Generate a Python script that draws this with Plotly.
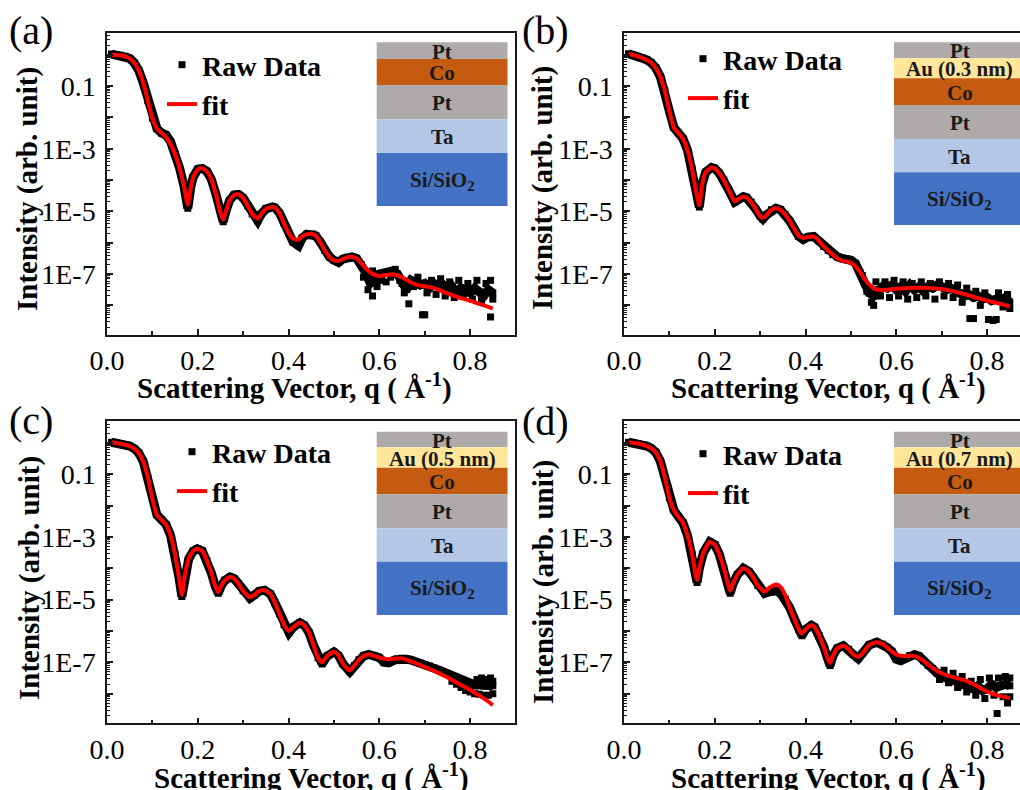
import numpy as np
import plotly.graph_objects as go

W, H = 1020, 790
FONT = "Liberation Serif"

# ---------------- data (log10 of intensity) ----------------
# (a) Pt/Co/Pt/Ta
qa_fit = [0.01,0.02,0.03,0.04,0.05,0.06,0.07,0.08,0.09,0.10,0.11,0.12,0.13,0.14,0.15,0.16,0.17,
          0.178,0.185,0.19,0.20,0.205,0.21,0.22,0.23,0.24,0.25,
          0.256,0.262,0.27,0.28,0.285,0.29,0.30,0.31,0.32,
          0.332,0.34,0.35,0.365,0.37,0.38,0.39,0.40,0.41,
          0.422,0.43,0.44,0.453,0.46,0.47,0.48,0.49,0.50,0.51,
          0.52,0.53,0.54,0.55,0.56,0.57,0.58,0.59,0.60,0.61,0.62,0.63,0.64,0.65,0.66,0.67,0.68,0.69,
          0.70,0.71,0.72,0.73,0.74,0.75,0.76,0.77,0.78,0.79,0.80,0.81,0.82,0.83,0.84,0.85]
la_fit = [0.0,-0.01,-0.02,-0.05,-0.12,-0.26,-0.5,-0.9,-1.47,-2.02,-2.36,-2.5,-2.63,-2.85,-3.17,-3.62,-4.22,
          -4.78,-4.2,-3.9,-3.66,-3.62,-3.63,-3.72,-3.98,-4.45,-5.05,
          -5.26,-5.0,-4.65,-4.48,-4.45,-4.46,-4.57,-4.82,-5.08,
          -5.23,-5.08,-4.92,-4.86,-4.88,-5.05,-5.38,-5.68,-5.87,
          -5.9,-5.8,-5.73,-5.72,-5.78,-5.98,-6.25,-6.45,-6.56,-6.58,
          -6.52,-6.46,-6.45,-6.5,-6.65,-6.82,-6.95,-7.03,-7.06,-7.04,-7.02,-7.01,-7.04,-7.1,-7.18,-7.27,-7.33,-7.37,
          -7.39,-7.41,-7.45,-7.5,-7.56,-7.62,-7.67,-7.72,-7.77,-7.81,-7.85,-7.9,-7.95,-8.0,-8.05,-8.1]
qa_raw = list(qa_fit)
la_raw = [0.02,-0.01,-0.02,-0.05,-0.12,-0.26,-0.5,-0.9,-1.47,-2.02,-2.36,-2.5,-2.56,-2.77,-3.17,-3.62,-4.22,
          -4.9,-4.2,-3.9,-3.66,-3.62,-3.63,-3.72,-3.98,-4.45,-5.05,
          -5.33,-5.0,-4.65,-4.48,-4.45,-4.46,-4.57,-4.82,-5.08,
          -5.3,-5.08,-4.92,-4.86,-4.88,-5.05,-5.38,-5.68,-5.98,
          -6.1,-5.85,-5.73,-5.72,-5.78,-5.98,-6.25,-6.45,-6.56,-6.63,
          -6.52,-6.46,-6.45,-6.5,-6.7,-6.95,-7.3,-7.2,-7.0,-6.95,-6.92,-6.9,-7.0,-7.3,-7.5,-7.2,-7.25,-7.35,
          -7.3,-7.45,-7.3,-7.4,-7.35,-7.55,-7.4,-7.6,-7.45,-7.5,-7.6,-7.45,-7.55,-7.7,-7.5,-7.6]
qa_cloud = [0.565,0.575,0.585,0.585,0.595,0.605,0.615,0.625,0.635,0.645,0.655,0.665,0.675,0.685,0.695,
            0.70,0.705,0.715,0.725,0.735,0.745,0.755,0.765,0.775,0.785,0.795,0.805,0.815,0.825,0.835,
            0.845,0.845,0.85]
la_cloud = [-7.1,-7.5,-7.7,-6.9,-7.4,-7.2,-7.25,-7.1,-6.85,-7.2,-7.6,-7.95,-7.4,-7.1,-8.3,
            -8.3,-7.6,-7.2,-7.65,-7.15,-7.7,-7.25,-7.75,-7.2,-7.7,-7.3,-7.8,-7.2,-7.85,-7.3,
            -8.37,-7.2,-7.8]

# (b) Pt/Au(0.3 nm)/Co/Pt/Ta
qb_fit = [0.01,0.02,0.03,0.04,0.05,0.06,0.07,0.08,0.09,0.10,0.11,0.12,0.13,0.14,0.15,
          0.158,0.166,0.172,0.18,0.193,0.20,0.21,0.22,0.23,0.244,
          0.25,0.263,0.27,0.28,0.29,0.30,0.306,0.315,0.325,0.335,
          0.345,0.355,0.365,0.375,0.385,0.395,0.405,0.418,0.43,0.44,
          0.45,0.46,0.47,0.48,0.49,0.50,0.51,0.52,0.53,0.54,0.55,0.56,0.57,0.58,
          0.60,0.62,0.64,0.66,0.68,0.70,0.72,0.74,0.76,0.78,0.80,0.82,0.84,0.85]
lb_fit = [0.03,-0.01,-0.05,-0.1,-0.16,-0.26,-0.42,-0.7,-1.15,-1.8,-2.33,-2.5,-2.68,-3.05,-3.65,
          -4.3,-4.8,-4.15,-3.75,-3.6,-3.63,-3.78,-4.0,-4.3,-4.68,
          -4.62,-4.53,-4.56,-4.7,-4.92,-5.15,-5.21,-5.1,-4.95,-4.9,
          -4.95,-5.1,-5.3,-5.55,-5.78,-5.85,-5.82,-5.8,-5.95,-6.12,
          -6.25,-6.38,-6.5,-6.57,-6.6,-6.65,-6.75,-6.93,-7.15,-7.33,-7.45,-7.5,-7.51,-7.5,
          -7.47,-7.45,-7.44,-7.44,-7.45,-7.48,-7.53,-7.6,-7.68,-7.77,-7.85,-7.92,-7.99,-8.03]
qb_raw = [0.01,0.02,0.03,0.04,0.05,0.06,0.07,0.08,0.09,0.10,0.11,0.12,0.13,0.14,0.15,
          0.158,0.166,0.172,0.18,0.193,0.20,0.21,0.22,0.23,0.244,
          0.25,0.263,0.27,0.28,0.29,0.30,0.306,0.315,0.325,0.335,
          0.345,0.355,0.365,0.375,0.385,0.395,0.405,0.418,0.43,0.44,
          0.45,0.46,0.47,0.48,0.49,0.50,0.51,
          0.52,0.53,0.54,0.55,0.56,0.57,0.58,0.59,0.60,0.61,0.62,0.63,0.64,0.65,0.66,0.67,0.68,
          0.69,0.70,0.71,0.72,0.73,0.74,0.75,0.76,0.77,0.78,0.79,0.80,0.81,0.82,0.83,0.84,0.85]
lb_raw = [0.03,-0.01,-0.05,-0.1,-0.16,-0.26,-0.42,-0.7,-1.15,-1.8,-2.33,-2.5,-2.68,-3.05,-3.65,
          -4.3,-4.86,-4.15,-3.75,-3.6,-3.63,-3.78,-4.0,-4.3,-4.7,
          -4.62,-4.53,-4.56,-4.7,-4.92,-5.15,-5.24,-5.1,-4.95,-4.9,
          -4.95,-5.1,-5.3,-5.55,-5.8,-5.9,-5.82,-5.8,-5.95,-6.12,
          -6.25,-6.38,-6.45,-6.5,-6.52,-6.56,-6.66,
          -6.95,-7.3,-7.6,-7.7,-7.5,-7.4,-7.45,-7.35,-7.5,-7.4,-7.55,-7.35,-7.5,-7.4,-7.55,-7.4,-7.45,
          -7.35,-7.4,-7.5,-7.45,-7.55,-7.6,-7.7,-7.65,-7.75,-7.7,-7.8,-7.75,-7.85,-7.8,-7.85,-7.75,-7.9]
qb_cloud = [0.525,0.535,0.545,0.55,0.555,0.565,0.575,0.585,0.595,0.605,
            0.615,0.625,0.635,0.645,0.655,0.665,0.675,0.685,0.695,0.705,
            0.715,0.725,0.735,0.745,0.755,0.762,0.77,0.775,0.785,0.795,
            0.803,0.813,0.82,0.825,0.835,0.845,0.85]
lb_cloud = [-7.05,-7.55,-7.9,-8.0,-7.25,-7.7,-7.25,-7.75,-7.2,-7.7,
            -7.25,-7.8,-7.3,-7.75,-7.25,-7.7,-7.3,-7.8,-7.25,-7.7,
            -7.3,-7.75,-7.35,-7.9,-7.45,-8.42,-8.42,-7.55,-8.0,-7.6,
            -8.45,-8.48,-8.45,-7.6,-8.05,-7.65,-8.1]

# (c) Pt/Au(0.5 nm)/Co/Pt/Ta
qc_fit = [0.01,0.02,0.03,0.04,0.05,0.06,0.07,0.08,0.09,0.10,0.11,0.12,0.13,0.14,0.15,
          0.158,0.165,0.172,0.18,0.19,0.199,0.21,0.22,0.23,0.238,
          0.245,0.252,0.26,0.271,0.28,0.29,0.30,0.315,0.325,0.335,
          0.347,0.36,0.37,0.38,0.39,0.401,0.41,0.425,0.435,0.445,
          0.455,0.465,0.474,0.485,0.50,0.51,0.52,0.535,0.545,0.555,
          0.565,0.577,0.59,0.60,0.61,0.62,0.635,0.65,0.66,0.67,
          0.68,0.69,0.70,0.71,0.72,0.73,0.74,0.75,0.76,0.77,0.78,0.79,0.80,0.81,0.82,0.83,0.84,0.85]
lc_fit = [0.02,0.0,-0.03,-0.06,-0.1,-0.18,-0.32,-0.6,-1.1,-1.78,-2.3,-2.45,-2.6,-2.95,-3.55,
          -4.25,-4.85,-4.2,-3.7,-3.45,-3.38,-3.45,-3.75,-4.15,-4.55,
          -4.76,-4.55,-4.38,-4.28,-4.33,-4.5,-4.72,-4.92,-4.85,-4.73,
          -4.7,-4.82,-5.1,-5.45,-5.8,-6.0,-5.88,-5.74,-5.82,-6.05,
          -6.45,-6.85,-7.0,-6.8,-6.67,-6.78,-7.05,-7.26,-7.1,-6.92,
          -6.8,-6.75,-6.8,-6.85,-6.88,-6.9,-6.88,-6.87,-6.92,-6.97,
          -7.03,-7.09,-7.15,-7.21,-7.27,-7.34,-7.41,-7.48,-7.56,-7.64,-7.72,-7.8,-7.88,-7.97,-8.06,-8.15,-8.25,-8.37]
qc_raw = list(qc_fit)
lc_raw = [0.02,0.0,-0.03,-0.06,-0.1,-0.18,-0.32,-0.6,-1.1,-1.78,-2.3,-2.45,-2.6,-2.95,-3.55,
          -4.25,-4.9,-4.2,-3.7,-3.45,-3.38,-3.45,-3.75,-4.15,-4.55,
          -4.8,-4.55,-4.38,-4.28,-4.33,-4.5,-4.72,-4.95,-4.85,-4.73,
          -4.7,-4.82,-5.1,-5.45,-5.8,-6.05,-5.88,-5.74,-5.82,-6.05,
          -6.45,-6.85,-7.05,-6.8,-6.67,-6.78,-7.05,-7.3,-7.1,-6.92,
          -6.8,-6.75,-6.8,-6.85,-7.0,-7.02,-6.92,-6.87,-6.9,-6.93,
          -6.97,-7.02,-7.07,-7.12,-7.18,-7.24,-7.3,-7.36,-7.43,-7.5,-7.56,-7.62,-7.68,-7.72,-7.72,-7.75,-7.72,-7.75]
qc_cloud = [0.76,0.77,0.78,0.79,0.80,0.81,0.815,0.82,0.825,0.83,0.835,0.84,0.845,0.85,0.85]
lc_cloud = [-7.6,-7.7,-7.8,-7.9,-7.95,-8.0,-7.55,-8.02,-7.5,-8.05,-7.55,-8.05,-7.5,-8.0,-7.6]

# (d) Pt/Au(0.7 nm)/Co/Pt/Ta
qd_fit = [0.01,0.02,0.03,0.04,0.05,0.06,0.07,0.08,0.09,0.10,0.11,0.12,0.13,0.14,0.15,
          0.156,0.161,0.166,0.175,0.189,0.20,0.21,0.22,0.228,0.234,
          0.24,0.25,0.263,0.275,0.285,0.295,0.31,0.32,0.336,0.345,
          0.355,0.365,0.375,0.385,0.392,0.40,0.413,0.42,0.43,0.44,
          0.448,0.454,0.46,0.47,0.483,0.495,0.505,0.516,0.525,0.54,
          0.557,0.57,0.58,0.59,0.60,0.61,0.62,0.63,0.64,0.65,
          0.66,0.67,0.68,0.69,0.70,0.71,0.72,0.73,0.74,0.75,0.76,0.77,0.78,0.79,0.80,0.81,0.82,0.83,0.84,0.85]
ld_fit = [0.02,0.0,-0.02,-0.05,-0.1,-0.17,-0.3,-0.58,-1.1,-1.75,-2.15,-2.35,-2.55,-2.95,-3.55,
          -4.05,-4.37,-4.0,-3.5,-3.16,-3.25,-3.55,-4.0,-4.45,-4.72,
          -4.5,-4.2,-4.0,-4.1,-4.3,-4.55,-4.74,-4.62,-4.52,-4.6,
          -4.85,-5.25,-5.6,-5.95,-6.08,-5.95,-5.82,-5.88,-6.15,-6.5,
          -6.85,-7.02,-6.8,-6.55,-6.47,-6.58,-6.75,-6.83,-6.72,-6.45,
          -6.36,-6.42,-6.53,-6.65,-6.75,-6.79,-6.8,-6.79,-6.8,-6.86,
          -6.95,-7.07,-7.18,-7.28,-7.35,-7.41,-7.45,-7.49,-7.53,-7.57,-7.63,-7.7,-7.78,-7.86,-7.93,-7.99,-8.04,-8.08,-8.11,-8.14]
qd_raw = list(qd_fit)
ld_raw = [0.02,0.0,-0.02,-0.05,-0.1,-0.17,-0.3,-0.58,-1.1,-1.75,-2.15,-2.35,-2.55,-2.95,-3.55,
          -4.05,-4.45,-4.0,-3.5,-3.16,-3.25,-3.55,-4.0,-4.45,-4.8,
          -4.5,-4.2,-4.0,-4.1,-4.3,-4.55,-4.8,-4.75,-4.72,-4.8,
          -4.98,-5.25,-5.6,-5.95,-6.15,-5.95,-5.82,-5.88,-6.15,-6.5,
          -6.85,-7.1,-6.8,-6.55,-6.47,-6.58,-6.75,-6.88,-6.72,-6.45,
          -6.36,-6.42,-6.53,-6.65,-6.9,-6.95,-6.88,-6.78,-6.75,-6.8,
          -6.95,-7.1,-7.2,-7.35,-7.4,-7.5,-7.6,-7.55,-7.65,-7.75,-7.8,-7.85,-7.75,-7.9,-7.85,-7.7,-7.8,-7.75,-7.7,-7.75]
qd_cloud = [0.695,0.705,0.715,0.725,0.735,0.745,0.755,0.765,0.775,0.785,
            0.795,0.805,0.815,0.822,0.825,0.835,0.84,0.845,0.85,0.85]
ld_cloud = [-7.55,-7.25,-7.65,-7.35,-7.8,-7.45,-7.95,-7.6,-8.05,-7.55,
            -8.15,-7.5,-8.05,-8.63,-7.5,-8.1,-7.45,-8.3,-7.5,-8.1]

# layer-stack insets
PT, AU, CO, TA, SI = "#AEAAAA", "#FFE699", "#C55A11", "#B4C7E7", "#4472C4"
inset_a = (["Pt", "Co", "Pt", "Ta", "Si/SiO<sub>2</sub>"], [PT, CO, PT, TA, SI])
inset_b = (["Pt", "Au (0.3 nm)", "Co", "Pt", "Ta", "Si/SiO<sub>2</sub>"], [PT, AU, CO, PT, TA, SI])
inset_c = (["Pt", "Au (0.5 nm)", "Co", "Pt", "Ta", "Si/SiO<sub>2</sub>"], [PT, AU, CO, PT, TA, SI])
inset_d = (["Pt", "Au (0.7 nm)", "Co", "Pt", "Ta", "Si/SiO<sub>2</sub>"], [PT, AU, CO, PT, TA, SI])
panel_labels = ["(a)", "(b)", "(c)", "(d)"]
x_title = "Scattering Vector, q ( Å<sup>-1</sup>)"
y_title = "Intensity (arb. unit)"

# ---------------- layout geometry (pixels) ----------------
PX_PER_Q = 453.9
LEFT_X, RIGHT_X = (107, 515), (624, 1020)
TOP_Y, BOT_Y = (32.5, 335), (420.7, 723.3)
Y_RANGE = [-8.945, 0.708]

inset_geo = [
    ((376.7, 507.5), [42.3, 59, 85, 119.3, 153, 206]),
    ((894, 1025), [42.3, 58.3, 78.3, 105, 139, 172.3, 225]),
    ((376.7, 507.5), [431.7, 447.3, 467.7, 494.3, 528.3, 561.7, 615]),
    ((894, 1025), [431.7, 447.3, 467.7, 494.3, 528.3, 561.7, 615]),
]
legend_pos = [(162, 40), (683, 34), (172, 427), (683, 429)]
label_pos = [(31, 31), (545, 31), (31, 421), (545, 422)]
xtitle_pos = [(294, 387), (828, 387), (311, 776), (828, 776)]
ytitle_pos = [(28, 189), (543, 188), (29, 578), (543, 582)]

panels = [
    (qa_fit, la_fit, qa_raw, la_raw, qa_cloud, la_cloud, inset_a),
    (qb_fit, lb_fit, qb_raw, lb_raw, qb_cloud, lb_cloud, inset_b),
    (qc_fit, lc_fit, qc_raw, lc_raw, qc_cloud, lc_cloud, inset_c),
    (qd_fit, ld_fit, qd_raw, ld_raw, qd_cloud, ld_cloud, inset_d),
]
boxes = [(LEFT_X, TOP_Y), (RIGHT_X, TOP_Y), (LEFT_X, BOT_Y), (RIGHT_X, BOT_Y)]

major_vals = [10.0 ** e for e in range(0, -10, -1)]
major_text = ["" if e % 2 == 0 else ("0.1" if e == -1 else f"1E{e}") for e in range(0, -10, -1)]
minor_vals = [k * 10.0 ** e for e in range(-10, 1) for k in range(2, 10)]

fig = go.Figure()
layout = {}
shapes, annotations = [], []
bold = dict(family=FONT, size=29, color="black", weight="bold")

for i, (panel, (bx, by)) in enumerate(zip(panels, boxes)):
    qf, lf, qr, lr, qcl, lcl, inset = panel
    k = "" if i == 0 else str(i + 1)
    xa, ya, lg = "x" + k, "y" + k, "legend" + k
    fig.add_trace(go.Scatter(x=qcl, y=10 ** np.array(lcl), mode="markers",
                             marker=dict(symbol="square", size=7, color="black"),
                             name="Raw Data", xaxis=xa, yaxis=ya, legend=lg))
    fig.add_trace(go.Scatter(x=qr, y=10 ** np.array(lr), mode="lines+markers",
                             line=dict(color="black", width=9),
                             marker=dict(symbol="square", size=7, color="black"),
                             showlegend=False, xaxis=xa, yaxis=ya))
    fig.add_trace(go.Scatter(x=qf, y=10 ** np.array(lf), mode="lines",
                             line=dict(color="#FF0000", width=4, shape="spline", smoothing=0.6),
                             name="fit", xaxis=xa, yaxis=ya, legend=lg))

    left = i % 2 == 0
    layout["xaxis" + k] = dict(
        domain=[bx[0] / W, min(bx[1] / W, 1.0)], automargin=False,
        range=[0, (bx[1] - bx[0]) / PX_PER_Q],
        anchor=ya, showline=True, mirror=True, linecolor="#1a1a1a", linewidth=1.5,
        ticks="inside", ticklen=6, tickwidth=1.5, tickcolor="#1a1a1a",
        tick0=0, dtick=0.2, tickformat=".1f",
        minor=dict(dtick=0.1, ticks="inside", ticklen=4, tickwidth=1.5, tickcolor="#1a1a1a"),
        tickfont=dict(family=FONT, size=28, color="black"),
        showgrid=False, zeroline=False,
    )
    layout["yaxis" + k] = dict(
        domain=[1 - by[1] / H, 1 - by[0] / H], type="log", range=Y_RANGE, automargin=False,
        anchor=xa, showline=True, mirror=left, linecolor="#1a1a1a", linewidth=1.5,
        ticks="inside", ticklen=6, tickwidth=1.5, tickcolor="#1a1a1a",
        tickmode="array", tickvals=major_vals, ticktext=major_text,
        minor=dict(tickmode="array", tickvals=minor_vals, ticks="inside", ticklen=3,
                   tickwidth=1, tickcolor="#1a1a1a"),
        tickfont=dict(family=FONT, size=28, color="black"), ticklabelstandoff=4,
        showgrid=False, zeroline=False,
    )
    lx, ly = legend_pos[i]
    layout["legend" + k] = dict(
        x=lx / W, y=1 - ly / H, xanchor="left", yanchor="top",
        font=dict(family=FONT, size=28, color="black", weight="bold"),
        bgcolor="rgba(0,0,0,0)", borderwidth=0, tracegroupgap=0, itemwidth=30,
    )

    # axis titles
    tx, ty = xtitle_pos[i]
    annotations.append(dict(text=x_title, xref="paper", yref="paper", x=tx / W, y=1 - ty / H,
                            xanchor="center", yanchor="middle", showarrow=False, font=bold))
    tx, ty = ytitle_pos[i]
    annotations.append(dict(text=y_title, xref="paper", yref="paper", x=tx / W, y=1 - ty / H,
                            xanchor="center", yanchor="middle", showarrow=False, textangle=-90,
                            font=bold))

    # inset layer stack
    (ix0, ix1), ys = inset_geo[i]
    names, colors = inset
    for j, (nm, col) in enumerate(zip(names, colors)):
        y0, y1 = ys[j], ys[j + 1]
        shapes.append(dict(type="rect", xref="paper", yref="paper",
                           x0=ix0 / W, x1=ix1 / W, y0=1 - y1 / H, y1=1 - y0 / H,
                           fillcolor=col, line=dict(width=0), layer="above"))
        annotations.append(dict(text=nm, xref="paper", yref="paper",
                                x=(ix0 + ix1) / 2 / W, y=1 - ((y0 + y1) / 2 + 1) / H,
                                xanchor="center", yanchor="middle", showarrow=False,
                                font=dict(family=FONT, size=21, color="#1a1a1a", weight="bold")))
    px_, py_ = label_pos[i]
    annotations.append(dict(text=panel_labels[i], xref="paper", yref="paper",
                            x=px_ / W, y=1 - py_ / H, xanchor="center", yanchor="middle",
                            showarrow=False, font=dict(family=FONT, size=40, color="black")))

fig.update_layout(
    width=W, height=H, margin=dict(l=0, r=0, t=0, b=0, autoexpand=False),
    paper_bgcolor="white", plot_bgcolor="white",
    font=dict(family=FONT, color="black"),
    shapes=shapes, annotations=annotations, **layout,
)
fig.write_html("out.html")
